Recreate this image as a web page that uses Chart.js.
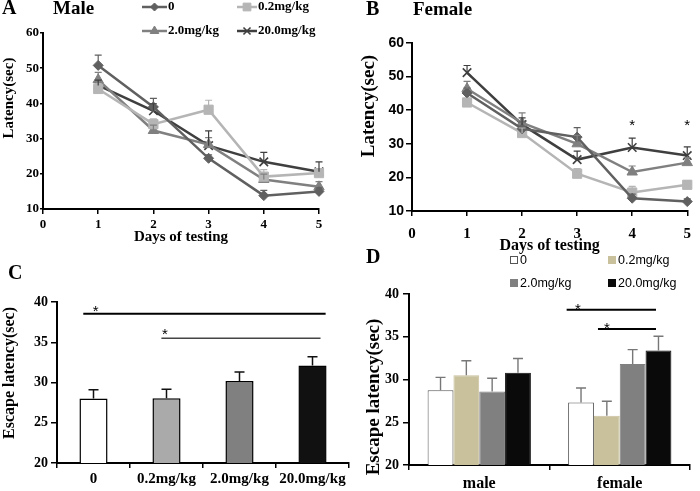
<!DOCTYPE html>
<html>
<head>
<meta charset="utf-8">
<script src="https://cdn.jsdelivr.net/npm/chart.js"></script>
<style>
  body { margin: 0; background: #fff; }
  #wrap { position: relative; width: 700px; height: 491px; }
  #wrap canvas { position: absolute; left: 0; top: 0; }
</style>
</head>
<body>
<div id="wrap">
  <canvas id="chartA" width="700" height="491"></canvas>
  <canvas id="chartB" width="700" height="491"></canvas>
  <canvas id="chartC" width="700" height="491"></canvas>
  <canvas id="chartD" width="700" height="491"></canvas>
</div>
<script>
var days = [1, 2, 3, 4, 5];
var doses = ['0', '0.2mg/kg', '2.0mg/kg', '20.0mg/kg'];
var sexes = ['male', 'female'];

// A - male latency per day (mean, upper SEM)
var maleDose0 = [50.8, 39.0, 24.4, 13.8, 15.0];
var maleDose02 = [44.1, 34.1, 38.2, 19.2, 20.2];
var maleDose2 = [46.7, 32.3, 28.3, 18.4, 16.3];
var maleDose20 = [45.1, 37.9, 28.0, 23.4, 20.6];
var maleErr0 = [2.9, 2.4, 1.0, 1.5, 1.0];
var maleErr02 = [1.5, 1.5, 2.7, 2.0, 1.2];
var maleErr2 = [2.1, 1.5, 2.0, 1.5, 1.5];
var maleErr20 = [1.5, 2.0, 4.2, 2.7, 2.8];

// B - female latency per day
var femaleDose0 = [45.1, 34.5, 32.0, 13.8, 12.8];
var femaleDose02 = [42.3, 33.2, 21.1, 15.5, 17.8];
var femaleDose2 = [46.4, 36.2, 30.0, 21.6, 24.4];
var femaleDose20 = [51.2, 35.7, 25.3, 28.9, 26.5];
var femaleErr0 = [1.5, 2.0, 2.8, 1.2, 0.8];
var femaleErr02 = [1.2, 1.5, 1.5, 1.8, 1.2];
var femaleErr2 = [2.2, 3.0, 2.5, 1.8, 1.5];
var femaleErr20 = [2.1, 2.0, 2.5, 2.8, 2.6];
var femaleStarDays = [4, 5];

// C - pooled escape latency
var pooledMean = [28.0, 28.05, 30.2, 32.1];
var pooledErr = [1.1, 1.1, 1.1, 1.1];

// D - escape latency by sex, [male, female]
var sexDose0 = [28.75, 27.3];
var sexDose02 = [30.5, 25.75];
var sexDose2 = [28.6, 31.8];
var sexDose20 = [30.8, 33.4];
var sexErr0 = [1.5, 1.7];
var sexErr02 = [1.7, 1.7];
var sexErr2 = [1.55, 1.7];
var sexErr20 = [1.65, 1.65];

var serif = '"Liberation Serif", "Times New Roman", serif';
var sans = '"Liberation Sans", Arial, sans-serif';
var lineColors = ['#606060', '#b5b5b5', '#808080', '#3f3f3f'];

Chart.defaults.color = '#000';
Chart.defaults.font.family = serif;

function pts(values) {
  return values.map(function (v, i) { return { x: days[i], y: v }; });
}

function lineSet(label, values, errs, color, style, radius) {
  return {
    label: label, data: pts(values), errs: errs,
    borderColor: color, backgroundColor: color, borderWidth: 2.5,
    pointStyle: style, pointRadius: radius, pointBorderWidth: style === 'crossRot' ? 1.6 : 1,
    pointBorderColor: color, pointBackgroundColor: color, clip: false
  };
}

// vertical axis with fixed width so the plot area lands where the figure has it
// (title is drawn by the extras plugin, the figure does not centre it)
function yAxis(min, max, step, tickFont, width, tickLen, pad) {
  return {
    min: min, max: max,
    ticks: { stepSize: step, font: tickFont, padding: pad },
    grid: { drawOnChartArea: false, drawTicks: true, tickLength: tickLen, color: '#000', lineWidth: 1.5 },
    border: { color: '#000', width: 2 },
    afterFit: function (s) { s.width = width; }
  };
}

function xAxisStyle(extra, height) {
  var ax = {
    grid: { drawOnChartArea: false, drawTicks: true, tickLength: 5, color: '#000', lineWidth: 1.5 },
    border: { color: '#000', width: 2 },
    afterFit: function (s) { s.height = height; }
  };
  for (var k in extra) ax[k] = extra[k];
  return ax;
}

var errorBars = {
  id: 'errorBars',
  afterDatasetsDraw: function (chart, args, opts) {
    var ctx = chart.ctx, ys = chart.scales.y;
    ctx.save();
    chart.data.datasets.forEach(function (ds, i) {
      if (!ds.errs) return;
      var meta = chart.getDatasetMeta(i);
      ctx.strokeStyle = opts.color || ds.borderColor;
      ctx.lineWidth = opts.width || 1.2;
      meta.data.forEach(function (el, j) {
        var v = ds.data[j];
        var val = typeof v === 'object' ? v.y : v;
        var top = ys.getPixelForValue(val + ds.errs[j]);
        var cap = opts.cap || 4;
        ctx.beginPath();
        ctx.moveTo(el.x, el.y);
        ctx.lineTo(el.x, top);
        ctx.moveTo(el.x - cap, top);
        ctx.lineTo(el.x + cap, top);
        ctx.stroke();
      });
    });
    ctx.restore();
  }
};

var extras = {
  id: 'extras',
  afterDraw: function (chart, args, opts) {
    var ctx = chart.ctx, xs = chart.scales.x, ys = chart.scales.y;
    ctx.save();
    ctx.fillStyle = '#000';
    (opts.texts || []).forEach(function (t) {
      ctx.font = t.font;
      ctx.textAlign = 'left';
      ctx.textBaseline = 'middle';
      ctx.fillText(t.text, t.x, t.y);
    });
    if (opts.yTitle) {
      var yt = opts.yTitle;
      ctx.save();
      ctx.translate(yt.x, yt.y);
      ctx.rotate(-Math.PI / 2);
      ctx.font = yt.font;
      ctx.textAlign = 'center';
      ctx.textBaseline = 'middle';
      ctx.fillText(yt.text, 0, 0);
      ctx.restore();
    }
    // significance bars
    (opts.sig || []).forEach(function (s) {
      var py = ys.getPixelForValue(s.value);
      ctx.strokeStyle = s.color;
      ctx.lineWidth = s.width;
      ctx.beginPath();
      ctx.moveTo(xs.getPixelForValue(s.from), py);
      ctx.lineTo(xs.getPixelForValue(s.to), py);
      ctx.stroke();
      ctx.font = '15px ' + sans;
      ctx.textAlign = 'center';
      ctx.textBaseline = 'alphabetic';
      ctx.fillText('*', xs.getPixelForValue(s.star), py + 8 - s.lift);
    });
    (opts.stars || []).forEach(function (s) {
      ctx.font = '15px ' + sans;
      ctx.textAlign = 'center';
      ctx.textBaseline = 'alphabetic';
      ctx.fillText('*', xs.getPixelForValue(s.x), ys.getPixelForValue(s.value) + 8);
    });
    // line legend
    (opts.lineLegend || []).forEach(function (it, i) {
      var ds = chart.data.datasets[i];
      ctx.strokeStyle = ds.borderColor;
      ctx.fillStyle = ds.backgroundColor;
      ctx.lineWidth = 2.5;
      ctx.beginPath();
      ctx.moveTo(it.x, it.y);
      ctx.lineTo(it.x + it.len, it.y);
      ctx.stroke();
      ctx.lineWidth = ds.pointBorderWidth;
      Chart.helpers.drawPoint(ctx, { pointStyle: ds.pointStyle, radius: ds.pointRadius - 1, borderWidth: ds.pointBorderWidth, rotation: 0 }, it.x + it.len / 2, it.y);
      ctx.font = 'bold 13px ' + serif;
      ctx.fillStyle = '#000';
      ctx.textAlign = 'left';
      ctx.textBaseline = 'middle';
      ctx.fillText(ds.label, it.x + it.len + 1, it.y);
    });
    // box legend
    (opts.boxLegend || []).forEach(function (it, i) {
      var ds = chart.data.datasets[i];
      ctx.fillStyle = ds.backgroundColor;
      ctx.fillRect(it.x, it.y - 4, 8, 8);
      ctx.strokeStyle = ds.borderColor;
      ctx.lineWidth = 1;
      ctx.strokeRect(it.x + 0.5, it.y - 3.5, 7, 7);
      ctx.font = '12.5px ' + sans;
      ctx.fillStyle = '#000';
      ctx.textAlign = 'left';
      ctx.textBaseline = 'middle';
      ctx.fillText(ds.label, it.x + 10, it.y + 0.5);
    });
    ctx.restore();
  }
};

var common = { responsive: false, animation: false, devicePixelRatio: 1 };
function opts(o) {
  var r = {};
  for (var k in common) r[k] = common[k];
  for (var k2 in o) r[k2] = o[k2];
  return r;
}

// ---- A: Male ----
new Chart(document.getElementById('chartA'), {
  type: 'line',
  data: {
    datasets: [
      lineSet('0', maleDose0, maleErr0, lineColors[0], 'rectRot', 5),
      lineSet('0.2mg/kg', maleDose02, maleErr02, lineColors[1], 'rect', 6.5),
      lineSet('2.0mg/kg', maleDose2, maleErr2, lineColors[2], 'triangle', 6),
      lineSet('20.0mg/kg', maleDose20, maleErr20, lineColors[3], 'crossRot', 6)
    ]
  },
  options: opts({
    layout: { padding: { left: 0, top: 33, right: 700 - 319, bottom: 491 - 209 - 37 } },
    scales: {
      x: xAxisStyle({
        type: 'linear', min: 0, max: 5,
        ticks: { stepSize: 1, font: { size: 13, weight: 'bold' }, padding: 3 },
        title: { display: true, text: 'Days of testing', font: { size: 15, weight: 'bold' }, padding: 0 }
      }, 37),
      y: yAxis(10, 60, 10, { size: 13, weight: 'bold' }, 43, 3, 1)
    },
    plugins: {
      legend: { display: false }, tooltip: { enabled: false },
      errorBars: { width: 1.2, cap: 3.5 },
      extras: {
        texts: [
          { text: 'A', x: 2, y: 9, font: 'bold 20px ' + serif },
          { text: 'Male', x: 53, y: 9, font: 'bold 19px ' + serif }
        ],
        yTitle: { text: 'Latency(sec)', x: 9.5, y: 98, font: 'bold 15px ' + serif },
        lineLegend: [
          { x: 142, y: 7, len: 25 },
          { x: 237, y: 7, len: 20 },
          { x: 142, y: 31, len: 25 },
          { x: 237, y: 31, len: 20 }
        ]
      }
    }
  }),
  plugins: [errorBars, extras]
});

// ---- B: Female ----
new Chart(document.getElementById('chartB'), {
  type: 'line',
  data: {
    datasets: [
      lineSet('0', femaleDose0, femaleErr0, lineColors[0], 'rectRot', 5),
      lineSet('0.2mg/kg', femaleDose02, femaleErr02, lineColors[1], 'rect', 6.5),
      lineSet('2.0mg/kg', femaleDose2, femaleErr2, lineColors[2], 'triangle', 6),
      lineSet('20.0mg/kg', femaleDose20, femaleErr20, lineColors[3], 'crossRot', 6)
    ]
  },
  options: opts({
    layout: { padding: { left: 412 - 54, top: 43, right: 700 - 696, bottom: 491 - 211 - 44 } },
    scales: {
      x: xAxisStyle({
        type: 'linear', min: 0, max: 5,
        ticks: { stepSize: 1, font: { size: 15, weight: 'bold' }, padding: 9 },
        title: { display: true, text: 'Days of testing', font: { size: 16, weight: 'bold' }, padding: 0 }
      }, 44),
      y: yAxis(10, 60, 10, { family: sans, size: 14, weight: 'bold' }, 54, 6, 2)
    },
    plugins: {
      legend: { display: false }, tooltip: { enabled: false },
      errorBars: { width: 1.2, cap: 3.5 },
      extras: {
        texts: [
          { text: 'B', x: 366, y: 10, font: 'bold 20px ' + serif },
          { text: 'Female', x: 413, y: 10, font: 'bold 19px ' + serif }
        ],
        yTitle: { text: 'Latency(sec)', x: 369.5, y: 106, font: 'bold 19px ' + serif },
        stars: femaleStarDays.map(function (d) { return { x: d, value: 36.4 }; })
      }
    }
  }),
  plugins: [errorBars, extras]
});

// ---- C: pooled ----
new Chart(document.getElementById('chartC'), {
  type: 'bar',
  data: {
    labels: doses,
    datasets: [{
      data: pooledMean, errs: pooledErr,
      backgroundColor: ['#ffffff', '#aaaaaa', '#808080', '#111111'],
      borderColor: '#000', borderWidth: 1.5, borderSkipped: false,
      barPercentage: 0.385, categoryPercentage: 1
    }]
  },
  options: opts({
    layout: { padding: { left: 0, top: 302, right: 700 - 349, bottom: 0 } },
    scales: {
      x: xAxisStyle({
        ticks: { font: { size: 15, weight: 'bold' }, padding: 2 }
      }, 28),
      y: yAxis(20, 40, 5, { size: 14, weight: 'bold' }, 57, 6, 3)
    },
    plugins: {
      legend: { display: false }, tooltip: { enabled: false },
      errorBars: { color: '#111', width: 1.5, cap: 5 },
      extras: {
        texts: [{ text: 'C', x: 8, y: 274, font: 'bold 20px ' + serif }],
        yTitle: { text: 'Escape latency(sec)', x: 10, y: 373, font: 'bold 16px ' + serif },
        sig: [
          { from: -0.14, to: 3.18, value: 38.55, star: 0.03, lift: 6, color: '#000', width: 2 },
          { from: 0.93, to: 3.11, value: 35.5, star: 0.98, lift: 7, color: '#444', width: 1.3 }
        ]
      }
    }
  }),
  plugins: [errorBars, extras]
});

// ---- D: by sex ----
var barColorsD = ['#ffffff', '#c9c09c', '#808080', '#0a0a0a'];
var barBordersD = ['#555555', '#c9c09c', '#808080', '#0a0a0a'];
function barSet(i, values, errs) {
  return {
    label: doses[i], data: values, errs: errs,
    backgroundColor: barColorsD[i], borderColor: barBordersD[i], borderWidth: 1, borderSkipped: false,
    barPercentage: 1, categoryPercentage: 0.735
  };
}
new Chart(document.getElementById('chartD'), {
  type: 'bar',
  data: {
    labels: sexes,
    datasets: [
      barSet(0, sexDose0, sexErr0),
      barSet(1, sexDose02, sexErr02),
      barSet(2, sexDose2, sexErr2),
      barSet(3, sexDose20, sexErr20)
    ]
  },
  options: opts({
    layout: { padding: { left: 409 - 46, top: 294, right: 700 - 690, bottom: 0 } },
    scales: {
      x: xAxisStyle({
        ticks: { font: { size: 16, weight: 'bold' }, padding: 4 }
      }, 26),
      y: yAxis(20, 40, 5, { size: 14, weight: 'bold' }, 46, 6, 4)
    },
    plugins: {
      legend: { display: false }, tooltip: { enabled: false },
      errorBars: { color: '#777', width: 1.4, cap: 5 },
      extras: {
        texts: [{ text: 'D', x: 366, y: 258, font: 'bold 20px ' + serif }],
        yTitle: { text: 'Escape latency(sec)', x: 374.5, y: 397, font: 'bold 19px ' + serif },
        sig: [
          { from: 0.622, to: 1.258, value: 38.16, star: 0.703, lift: 4, color: '#000', width: 2 },
          { from: 0.845, to: 1.258, value: 35.9, star: 0.909, lift: 4, color: '#000', width: 2 }
        ],
        boxLegend: [
          { x: 510, y: 260 },
          { x: 608, y: 260 },
          { x: 510, y: 283 },
          { x: 608, y: 283 }
        ]
      }
    }
  }),
  plugins: [errorBars, extras]
});
</script>
</body>
</html>
